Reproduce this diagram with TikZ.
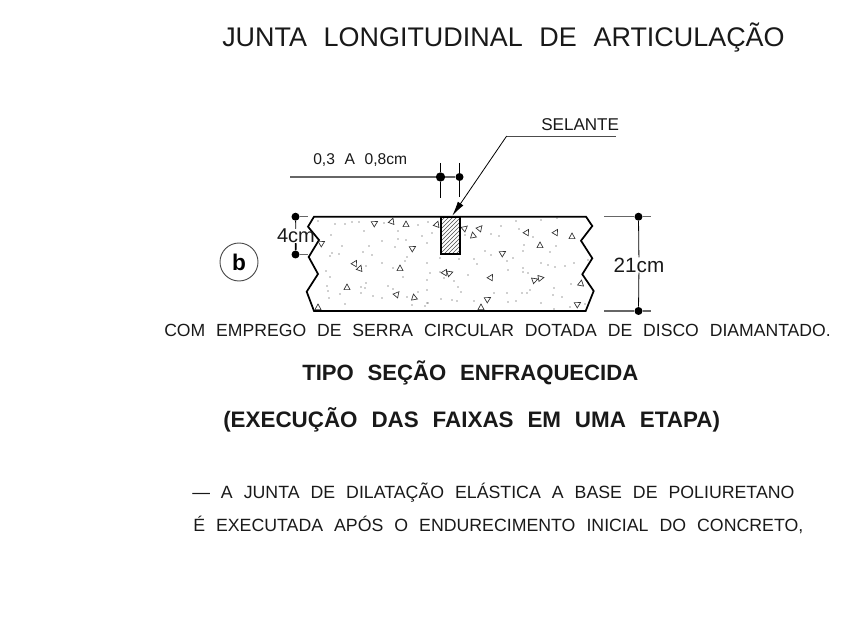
\documentclass[tikz,border=0pt]{standalone}
\usepackage{fontspec}
\setmainfont{Liberation Sans}
\usetikzlibrary{patterns,arrows.meta}

\tikzset{
	cadtext/.style={anchor=west,inner sep=0pt,text=black!90,execute at begin node={\spaceskip=0.62em\relax}},
	dimline/.style={draw=black!60,line width=0.8pt},
	dimthin/.style={draw=black,line width=0.6pt},
	dimdot/.style={circle,fill=black,inner sep=0pt,minimum size=6pt},
	slab/.style={draw=black,line width=1.3pt,line join=miter}
}

\begin{document}
\begin{tikzpicture}[x=0.75pt,y=-0.75pt]
\useasboundingbox (0,0) rectangle (858,630);

\node [cadtext,font=\fontsize{20.2}{24}\selectfont] (title) at (222,38) {JUNTA LONGITUDINAL DE ARTICULAÇÃO};
\node [cadtext,font=\fontsize{13.2}{16}\selectfont] (linea) at (164,330) {COM EMPREGO DE SERRA CIRCULAR DOTADA DE DISCO DIAMANTADO.};
\node [cadtext,font=\bfseries\fontsize{16.6}{20}\selectfont] (lineb) at (302,373) {TIPO SEÇÃO ENFRAQUECIDA};
\node [cadtext,font=\bfseries\fontsize{16.8}{20}\selectfont] (linec) at (223,420) {(EXECUÇÃO DAS FAIXAS EM UMA ETAPA)};
\node [cadtext,font=\fontsize{13.3}{16}\selectfont] (lined) at (192,493) {— A JUNTA DE DILATAÇÃO ELÁSTICA A BASE DE POLIURETANO};
\node [cadtext,font=\fontsize{13.3}{16}\selectfont] (linee) at (193,525) {É EXECUTADA APÓS O ENDURECIMENTO INICIAL DO CONCRETO,};

% slab
\draw [slab] (314,216.7) -- (586,216.7) -- (592.3,226) -- (581,240.7) -- (592.3,258.3)
	-- (582.3,274.3) -- (593.7,291) -- (585.7,311) -- (314,311) -- (306.7,291.7)
	-- (318,274) -- (308.7,257) -- (319,240) -- (308,226.7) -- cycle;

% aggregate
\foreach \x/\y in {318/221,335/224,331/235,345/224,352/222,359/222,364/231,384/223,398/231,398/239,
	406/240,382/241,369/246,342/246,395/247,332/253,339/254,330/256,363/252,372/255,407/257,405/261,
	382/263,366/266,393/268,427/263,326/271,330/277,403/277,427/280,430/273,327/286,328/291,366/283,
	361/287,365/288,361/293,388/286,393/289,340/294,329/298,373/296,382/298,407/297,427/290,418/292,
	345/304,412/305,425/306,428/303,422/236,432/233,427/243,418/225,428/222,465/235,491/234,499/236,
	501/226,516/221,541/220,557/218,519/229,533/237,524/245,523/251,556/246,550/252,485/251,491/255,
	513/258,507/261,459/259,440/258,474/259,477/264,508/270,523/268,523/272,528/273,541/263,548/265,
	555/267,565/266,574/263,588/260,440/272,444/278,454/281,468/275,458/287,461/292,530/290,507/293,
	522/293,527/293,554/288,553/295,562/297,571/284,441/299,452/300,457/301,474/301,494/293,508/302,
	516/301,541/303,570/307,585/304,554/309,427/303} {
	\fill [black!80] (\x,\y) circle (0.55pt);
}
\foreach \x/\y/\r in {322/243/-60,375/223/-60,392/221/-20,406/224/0,437/224/-20,413/248/-60,355/263/-30,
	360/268/-20,400/268/0,347/287/0,397/294/-40,414/297/10,318/307/0,465/228/-50,473/235/10,480/228/-40,
	527/232/-30,556/232/-30,572/236/0,540/245/0,503/253/-60,445/272/-30,450/273/-70,491/277/-30,535/280/-70,
	541/278/-80,581/283/-10,488/299/-60,481/307/0,578/304/-60} {
	\draw [black!80,line width=0.5pt,rotate around={\r:(\x,\y)}] (\x-3,\y+2.6) -- (\x+3,\y+2.6) -- (\x,\y-3) -- cycle;
}

% selante
\draw [slab,pattern=north east lines,pattern color=black!70] (440.7,216.7) rectangle (460,254.3);
\coordinate (selanteend) at (615.7,136);
\coordinate (selantebend) at (506.7,136);
\coordinate (selantetip) at (452.3,215.7);
\draw [black!70,line width=0.6pt] (selanteend) -- (selantebend);
\draw [black,line width=0.6pt,-{Latex[length=11pt,width=5pt]}] (selantebend) -- (selantetip);
\node [cadtext,font=\fontsize{12.8}{16}\selectfont] (selante) at (541,125) {SELANTE};

% 0,3 a 0,8cm
\node [cadtext,font=\fontsize{11.7}{14}\selectfont] (abertura) at (313,160) {0,3 A 0,8cm};
\node [dimdot,minimum size=7pt] (abdota) at (440.5,177) {};
\node [dimdot] (abdotb) at (459.5,177) {};
\coordinate (abstart) at (290,177);
\draw [dimline] (abstart) -- (abdota) -- (abdotb);
\draw [dimthin] (440.5,163) -- (abdota) -- (440.5,198);
\draw [dimthin] (459.5,163) -- (abdotb) -- (459.5,197);

% 21cm
\node [dimdot] (espa) at (638.5,216.7) {};
\node [dimdot] (espb) at (638.5,311) {};
\node [cadtext,anchor=center,font=\fontsize{15.5}{18}\selectfont] (esp) at (639,265) {21cm};
\draw [dimline] (604,216.7) -- (espa) -- (651,216.7);
\draw [dimline] (604,311) -- (espb) -- (651,311);
\draw [dimthin] (espa) -- (esp);
\draw [dimthin] (esp) -- (espb);

% 4cm
\node [dimdot] (proa) at (295.5,216.7) {};
\node [dimdot] (prob) at (295.5,254.5) {};
\node [cadtext,anchor=center,font=\fontsize{15}{18}\selectfont] (pro) at (296,236) {4cm};
\draw [dimline] (proa) -- (308,216.7);
\draw [dimline] (prob) -- (308,254.5);
\draw [dimthin] (proa) -- (pro);
\draw [black,line width=1.3pt] (pro) -- (prob);

% b
\node [circle,draw=black!70,line width=0.7pt,minimum size=38pt*0.75,inner sep=0pt,font=\bfseries\fontsize{17}{20}\selectfont] (det) at (239,262) {b};

\end{tikzpicture}
\end{document}
